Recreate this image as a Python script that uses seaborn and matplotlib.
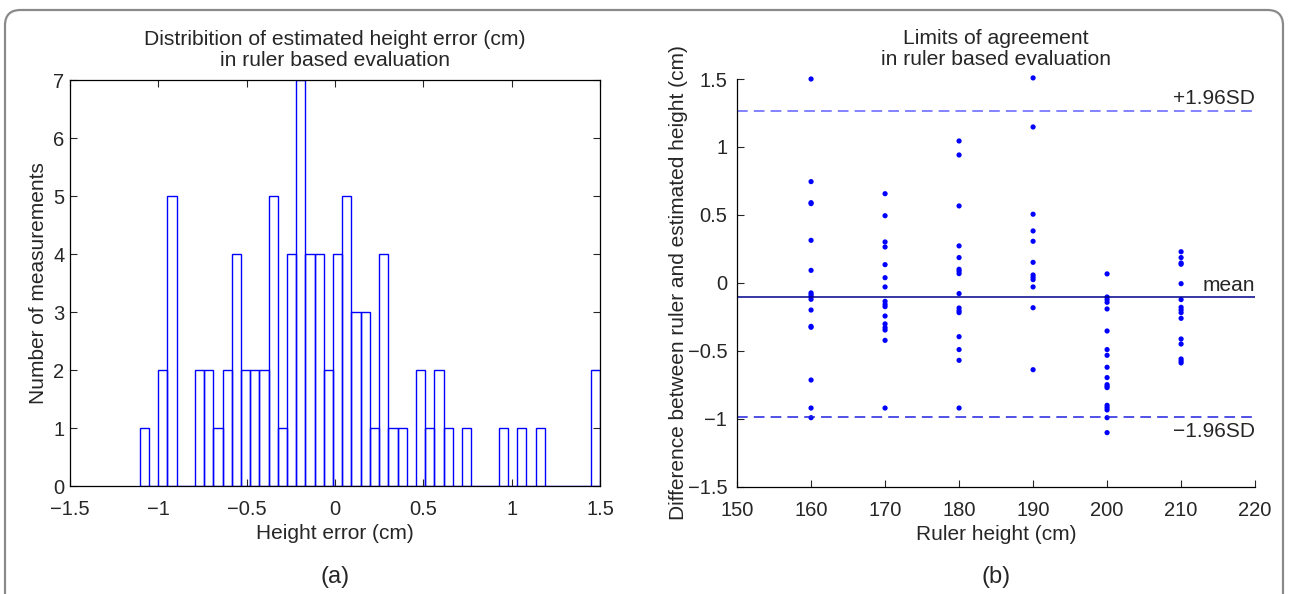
import numpy as np
import pandas as pd

import matplotlib
matplotlib.use("Agg")
import matplotlib.pyplot as plt
from matplotlib.patches import FancyBboxPatch
import seaborn as sns

sns.set_style("ticks")
plt.rcParams['font.family'] = ['Liberation Sans', 'DejaVu Sans']

# -- (a) histogram of height error, 50 bins between min and max -- #
hist_lo, hist_hi = -1.105, 1.50
hist_counts = [1, 0, 2, 5, 0, 0, 2, 2, 1, 2,
               4, 2, 2, 2, 5, 1, 4, 7, 4, 4,
               2, 4, 5, 3, 3, 1, 4, 1, 1, 0,
               2, 1, 2, 1, 0, 1, 0, 0, 0, 1,
               0, 1, 0, 1, 0, 0, 0, 0, 0, 2]

# -- (b) difference between ruler and estimated height, per ruler height -- #
diff_160 = [1.50, 0.745, 0.590, 0.583, 0.313, 0.092, -0.074, -0.087,
            -0.101, -0.121, -0.200, -0.320, -0.327, -0.715, -0.921, -0.992]
diff_170 = [0.656, 0.494, 0.301, 0.264, 0.134, 0.038, -0.030, -0.136,
            -0.158, -0.175, -0.244, -0.302, -0.329, -0.347, -0.423, -0.921]
diff_180 = [1.044, 0.941, 0.566, 0.272, 0.186, 0.100, 0.085, 0.068,
            -0.079, -0.185, -0.204, -0.219, -0.396, -0.491, -0.570, -0.921]
diff_190 = [1.508, 1.147, 0.505, 0.382, 0.306, 0.151, 0.058, 0.041,
            0.024, -0.030, -0.183, -0.639]
diff_200 = [0.066, -0.104, -0.123, -0.143, -0.192, -0.354, -0.491, -0.533,
            -0.621, -0.697, -0.749, -0.761, -0.771, -0.901, -0.918, -0.935,
            -0.992, -1.102]
diff_210 = [0.229, 0.186, 0.146, 0.137, -0.006, -0.123, -0.180, -0.199,
            -0.219, -0.261, -0.413, -0.450, -0.560, -0.575, -0.589]
ruler_heights = [160, 170, 180, 190, 200, 210]
mean_diff = -0.106
upper_loa = 1.267
lower_loa = -0.990

diffs = [diff_160, diff_170, diff_180, diff_190, diff_200, diff_210]
df = pd.DataFrame({
    'ruler': np.repeat(ruler_heights, [len(d) for d in diffs]),
    'diff': np.concatenate(diffs),
})

n_bins = len(hist_counts)
edges = np.linspace(hist_lo, hist_hi, n_bins + 1)
hist_df = pd.DataFrame({'err': (edges[:-1] + edges[1:]) / 2,
                        'count': hist_counts})

minus_labels = ["\u22121.5", "\u22121", "\u22120.5", "0", "0.5", "1", "1.5"]

fig = plt.figure(figsize=(12.89, 5.94), dpi=100)
ax1 = fig.add_axes([0.0543, 0.1818, 0.4112, 0.6835])
ax2 = fig.add_axes([0.5718, 0.1806, 0.4019, 0.6864])

## (a) histogram
sns.histplot(data=hist_df, x='err', weights='count', bins=n_bins,
             binrange=(hist_lo, hist_hi), fill=False,
             color="#0000ff", linewidth=1.0, ax=ax1)
ax1.set_xlim(-1.5, 1.5)
ax1.set_ylim(0, 7)
ax1.set_xticks(np.arange(-1.5, 1.51, 0.5))
ax1.set_xticklabels(minus_labels)
ax1.set_yticks(range(0, 8))
ax1.tick_params(direction="in", top=True, right=True, length=5, width=0.8,
                labelsize=14.5)
ax1.tick_params(axis="x", pad=10)
ax1.tick_params(axis="y", pad=4)
ax1.set_xlabel("Height error (cm)", fontsize=15, labelpad=4)
ax1.set_ylabel("Number of measurements", fontsize=15, labelpad=4)
ax1.set_title("Distribition of estimated height error (cm)\nin ruler based evaluation",
              fontsize=15.2, linespacing=1.12, pad=10)
for s in ax1.spines.values():
    s.set_linewidth(0.9)
    s.set_color("black")

## (b) limits of agreement
sns.scatterplot(data=df, x='ruler', y='diff', color="#0000ff", s=14,
                edgecolor="none", clip_on=False, ax=ax2)
ax2.axhline(upper_loa, color="#6060ff", lw=1.1, dashes=(7, 4))
ax2.axhline(mean_diff, color="#00008a", lw=1.1)
ax2.axhline(lower_loa, color="#2020e0", lw=1.1, dashes=(7, 4))
ax2.text(220, upper_loa + 0.09, "+1.96SD", ha="right", va="center", fontsize=15)
ax2.text(220, mean_diff + 0.09, "mean", ha="right", va="center", fontsize=15)
ax2.text(220, lower_loa - 0.105, "\u22121.96SD", ha="right", va="center", fontsize=15)
ax2.set_xlim(150, 220)
ax2.set_ylim(-1.5, 1.5)
ax2.set_xticks(range(150, 221, 10))
ax2.set_yticks(np.arange(-1.5, 1.51, 0.5))
ax2.set_yticklabels(minus_labels)
ax2.tick_params(direction="in", length=5, width=0.8, labelsize=14.5)
ax2.tick_params(axis="x", pad=10)
ax2.tick_params(axis="y", pad=7)
sns.despine(ax=ax2)
for s in ax2.spines.values():
    s.set_linewidth(0.9)
    s.set_color("black")
ax2.set_xlabel("Ruler height (cm)", fontsize=15, labelpad=4)
ax2.set_ylabel("Difference between ruler and estimated height (cm)", fontsize=15,
               labelpad=0)
ax2.set_title("Limits of agreement\nin ruler based evaluation",
              fontsize=15.2, linespacing=1.12, pad=10)

# panel letters and outer frame
fig.text(335 / 1289, 1 - 577 / 594, "(a)", ha="center", va="center", fontsize=17)
fig.text(996 / 1289, 1 - 577 / 594, "(b)", ha="center", va="center", fontsize=17)
fig.patches.append(FancyBboxPatch((5 / 1289, -0.1), 1278 / 1289, 1.1 - 10 / 594,
                                  boxstyle="round,pad=0,rounding_size=0.012",
                                  transform=fig.transFigure, fill=False,
                                  ec="#8a8a8a", lw=1.6, mutation_aspect=2.17))

fig.savefig("out.png", dpi=100)
plt.close()
